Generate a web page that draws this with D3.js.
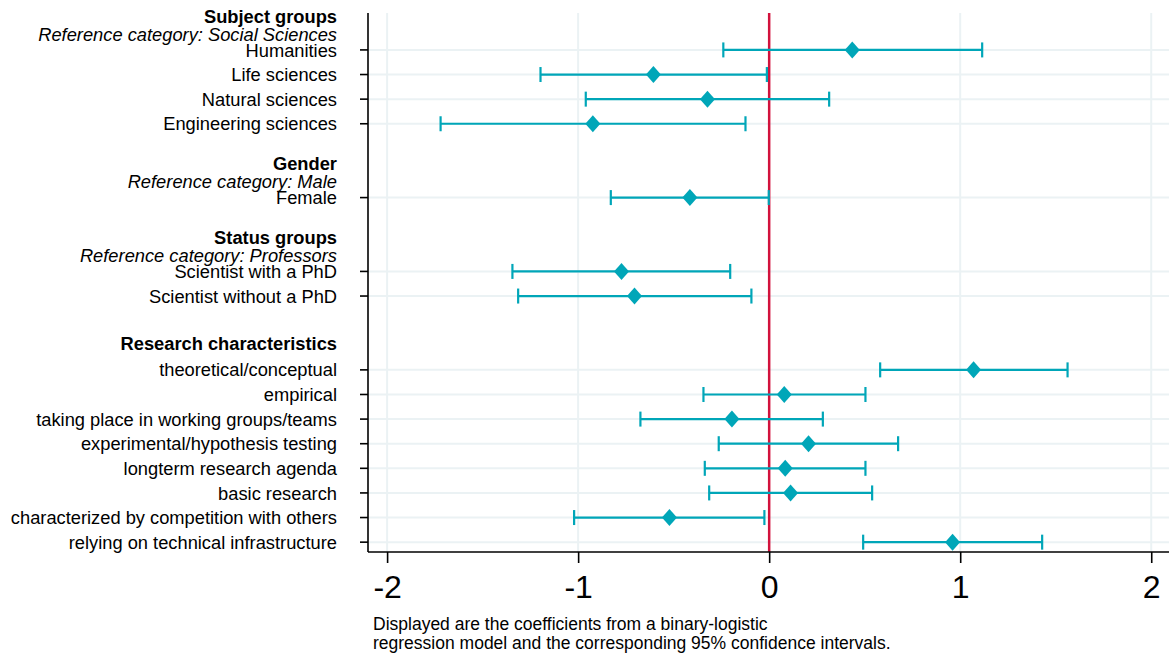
<!DOCTYPE html>
<html>
<head>
<meta charset="utf-8">
<script src="https://cdnjs.cloudflare.com/ajax/libs/d3/7.8.5/d3.min.js"></script>
<style>
  body { margin: 0; background: #fff; }
  svg { font-family: "Liberation Sans", Arial, sans-serif; }
</style>
</head>
<body>
<svg width="1169" height="655"></svg>
<script>
// coefficient rows (row = vertical slot)
var labels = ["Humanities", "Life sciences", "Natural sciences", "Engineering sciences",
    "Female",
    "Scientist with a PhD", "Scientist without a PhD",
    "theoretical/conceptual", "empirical", "taking place in working groups/teams",
    "experimental/hypothesis testing", "longterm research agenda", "basic research",
    "characterized by competition with others", "relying on technical infrastructure"];
var rows = [0, 1, 2, 3, 6, 9, 10, 13, 14, 15, 16, 17, 18, 19, 20];
var estimates = [0.435, -0.606, -0.323, -0.923, -0.415, -0.773, -0.705,
    1.070, 0.079, -0.195, 0.206, 0.084, 0.112, -0.522, 0.960];
var lower = [-0.240, -1.197, -0.960, -1.720, -0.829, -1.344, -1.314,
    0.581, -0.344, -0.674, -0.264, -0.337, -0.314, -1.021, 0.492];
var upper = [1.115, -0.012, 0.314, -0.124, -0.002, -0.204, -0.093,
    1.562, 0.504, 0.281, 0.675, 0.504, 0.539, -0.025, 1.429];

// group headings, placed above the first row of each group
var headers = ["Subject groups", "Gender", "Status groups", "Research characteristics"];
var headerRefs = ["Reference category: Social Sciences", "Reference category: Male",
    "Reference category: Professors", ""];
var headerRows = [0, 6, 9, 12];

var xTicks = [-2, -1, 0, 1, 2];
var note = ["Displayed are the coefficients from a binary-logistic",
    "regression model and the corresponding 95% confidence intervals."];

var teal = "#00a6b8", red = "#d2123c", grid = "#ebf2f4";

var svg = d3.select("svg");
var plotL = 368, plotR = 1169, plotT = 13, plotB = 552;
var labelSize = 18.3;

var x = d3.scaleLinear().domain([-2.1, 2.093]).range([plotL, plotR]);
var y = d3.scaleLinear().domain([-1.5, 20.4]).range([plotT, plotB]);

// grid
svg.append("g").selectAll("line")
    .data(xTicks.filter(function (d) { return d !== 0; }))
    .enter().append("line")
    .attr("x1", x).attr("x2", x)
    .attr("y1", plotT).attr("y2", plotB)
    .attr("stroke", grid).attr("stroke-width", 2);

svg.append("g").selectAll("line")
    .data(rows)
    .enter().append("line")
    .attr("x1", plotL).attr("x2", plotR)
    .attr("y1", y).attr("y2", y)
    .attr("stroke", grid).attr("stroke-width", 2);

// zero line
svg.append("line")
    .attr("x1", x(0)).attr("x2", x(0))
    .attr("y1", plotT).attr("y2", plotB)
    .attr("stroke", red).attr("stroke-width", 2.5);

// x axis
var xAxis = svg.append("g")
    .attr("transform", "translate(0," + plotB + ")")
    .call(d3.axisBottom(x).tickValues(xTicks).tickSize(11).tickPadding(10)
        .tickFormat(function (d) { return String(d); }));
xAxis.select(".domain").attr("stroke", "#000").attr("stroke-width", 1.6)
    .attr("d", "M" + plotL + ",0H" + plotR);
xAxis.selectAll(".tick line").attr("stroke", "#000").attr("stroke-width", 1.6);
xAxis.selectAll(".tick text")
    .attr("font-family", "Liberation Sans, Arial, sans-serif")
    .attr("font-size", 32).attr("fill", "#000")
    .attr("y", 46).attr("dy", null);

// y axis line and ticks
svg.append("line")
    .attr("x1", plotL).attr("x2", plotL)
    .attr("y1", plotT).attr("y2", plotB)
    .attr("stroke", "#000").attr("stroke-width", 1.6);
svg.append("g").selectAll("line")
    .data(rows)
    .enter().append("line")
    .attr("x1", plotL - 8).attr("x2", plotL)
    .attr("y1", y).attr("y2", y)
    .attr("stroke", "#000").attr("stroke-width", 1.6);

// row labels
svg.append("g").selectAll("text")
    .data(labels)
    .enter().append("text")
    .attr("x", 337)
    .attr("y", function (d, i) { return y(rows[i]); })
    .attr("dy", "0.36em")
    .attr("text-anchor", "end")
    .attr("font-size", labelSize)
    .text(function (d) { return d; });

// headers
var hg = svg.append("g");
headers.forEach(function (h, i) {
    var r = headerRows[i];
    var yc = headerRefs[i] ? y(r) - 34 : y(r) - 2;
    hg.append("text")
        .attr("x", 337).attr("y", yc).attr("dy", "0.36em")
        .attr("text-anchor", "end").attr("font-size", labelSize).attr("font-weight", "bold")
        .text(h);
    if (headerRefs[i]) {
        hg.append("text")
            .attr("x", 337).attr("y", y(r) - 16).attr("dy", "0.36em")
            .attr("text-anchor", "end").attr("font-size", labelSize).attr("font-style", "italic")
            .text(headerRefs[i]);
    }
});

// confidence intervals
var ci = svg.append("g").attr("stroke", teal).attr("stroke-width", 2.2);
rows.forEach(function (r, i) {
    var yy = y(r);
    ci.append("line").attr("x1", x(lower[i])).attr("x2", x(upper[i])).attr("y1", yy).attr("y2", yy);
    ci.append("line").attr("x1", x(lower[i])).attr("x2", x(lower[i])).attr("y1", yy - 7.5).attr("y2", yy + 7.5);
    ci.append("line").attr("x1", x(upper[i])).attr("x2", x(upper[i])).attr("y1", yy - 7.5).attr("y2", yy + 7.5);
});

// point estimates (diamonds)
svg.append("g").selectAll("path")
    .data(estimates)
    .enter().append("path")
    .attr("transform", function (d, i) { return "translate(" + x(d) + "," + y(rows[i]) + ")"; })
    .attr("d", "M0,-8.5L7.5,0L0,8.5L-7.5,0Z")
    .attr("fill", teal);

// footnote
svg.append("g").selectAll("text")
    .data(note)
    .enter().append("text")
    .attr("x", 373)
    .attr("y", function (d, i) { return 630 + i * 19; })
    .attr("font-size", 17.5)
    .text(function (d) { return d; });
</script>
</body>
</html>
